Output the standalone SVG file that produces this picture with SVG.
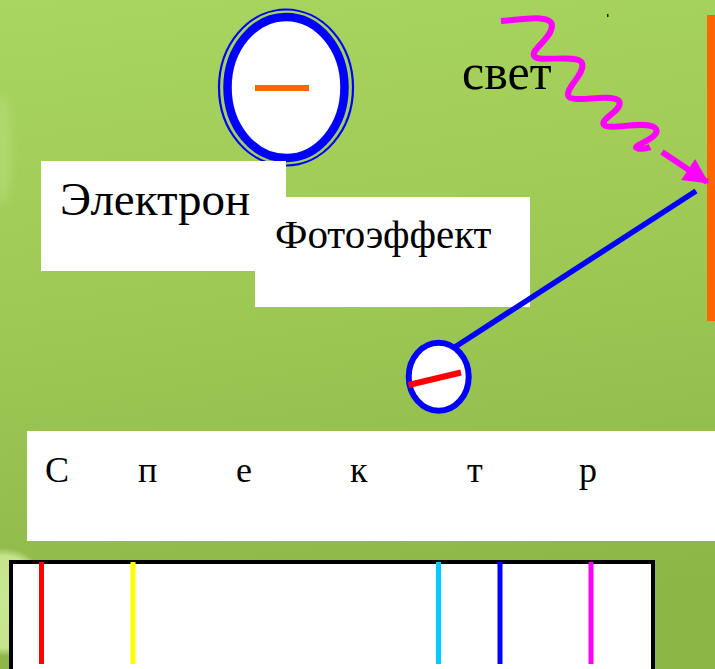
<svg xmlns="http://www.w3.org/2000/svg" width="715" height="669" viewBox="0 0 715 669">
  <defs>
    <linearGradient id="bg" x1="0" y1="0" x2="0.15" y2="1">
      <stop offset="0" stop-color="#A8D660"/>
      <stop offset="0.5" stop-color="#9DC854"/>
      <stop offset="1" stop-color="#8CB747"/>
    </linearGradient>
    <radialGradient id="glow" cx="0.5" cy="0.5" r="0.5">
      <stop offset="0" stop-color="#C9E692"/>
      <stop offset="0.85" stop-color="#C6E48C"/>
      <stop offset="1" stop-color="#C6E48C" stop-opacity="0"/>
    </radialGradient>
    <filter id="soft" x="-50%" y="-50%" width="200%" height="200%">
      <feGaussianBlur stdDeviation="4"/>
    </filter>
    <marker id="arrow" viewBox="0 0 10 10" refX="9" refY="5" markerWidth="4.2" markerHeight="4.2" markerUnits="strokeWidth" orient="auto">
      <path d="M0,0 L10,5 L0,10 Z" fill="#FF00FF"/>
    </marker>
    <style>
      .box { fill: #FFFFFF; }
      .line { fill: none; stroke-linecap: butt; }
      text { font-family: "Liberation Serif", "Times New Roman", "DejaVu Serif", serif; fill: #000000; }
    </style>
  </defs>

  <!-- background -->
  <rect x="0" y="0" width="715" height="669" fill="url(#bg)"/>
  <ellipse cx="2" cy="150" rx="10" ry="55" fill="#B8DE7A" opacity="0.6" filter="url(#soft)"/>
  <ellipse cx="4" cy="602" rx="48" ry="54" fill="url(#glow)"/>
  <rect x="607" y="14" width="1.5" height="3" fill="#222"/>

  <!-- electron: double ring with minus sign -->
  <g id="electron">
    <ellipse cx="286" cy="87.5" rx="67" ry="78" fill="none" stroke="#0000FF" stroke-width="2.2"/>
    <ellipse cx="286" cy="87.5" rx="58.5" ry="70.5" fill="#FFFFFF" stroke="#0000FF" stroke-width="8.5"/>
    <line x1="255" y1="88" x2="309" y2="88" stroke="#FF6600" stroke-width="6"/>
  </g>

  <!-- label boxes -->
  <g id="electron-label">
    <rect class="box" x="41" y="161" width="245" height="110"/>
    <text x="60" y="215" font-size="47">Электрон</text>
  </g>
  <g id="photoeffect-label">
    <rect class="box" x="255" y="197" width="275" height="110"/>
    <text x="275" y="248" font-size="41">Фотоэффект</text>
  </g>

  <!-- metal plate -->
  <g id="plate">
    <rect x="707" y="15" width="10" height="306" fill="#FF6600"/>
  </g>

  <!-- light label -->
  <g id="light-label">
    <text x="462" y="89" font-size="50">свет</text>
  </g>

  <!-- emitted electron -->
  <g id="photoelectron">
    <ellipse cx="438.7" cy="376.7" rx="30" ry="34" fill="#FFFFFF" stroke="#0000FF" stroke-width="6"/>
    <line x1="408.5" y1="385" x2="461" y2="372.5" stroke="#FF0000" stroke-width="6"/>
  </g>

  <!-- connectors: incoming photon and electron track -->
  <g id="connectors">
    <path class="line" stroke="#FF00FF" stroke-width="6" stroke-linejoin="round"
          d="M501,21 C525,19 552,14 552,26 C551,40 528,51 535,57 C541,62 578,54 582,63 C586,74 563,89 569,97 C575,103 612,93 619,101 C624,110 599,119 604,125 C610,131 650,119 656,129 C661,138 630,146 637,148 C641,150 648,148 650,147"/>
    <path class="line" stroke="#FF00FF" stroke-width="6" marker-end="url(#arrow)" d="M662,152 L707,182"/>
    <line class="line" x1="696" y1="191" x2="455" y2="347" stroke="#0000FF" stroke-width="5.5"/>
  </g>

  <!-- spectrum title -->
  <g id="spectrum-title">
    <rect class="box" x="27" y="431" width="690" height="110"/>
    <g font-size="36">
      <text x="45" y="482">С</text>
      <text x="138" y="482">п</text>
      <text x="236" y="482">е</text>
      <text x="350" y="482">к</text>
      <text x="467" y="482">т</text>
      <text x="579" y="482">р</text>
    </g>
  </g>

  <!-- spectrum lines -->
  <g id="spectrum">
    <rect x="11" y="562" width="642" height="120" fill="#FFFFFF" stroke="#000000" stroke-width="4"/>
    <line x1="41.5" y1="562" x2="41.5" y2="664" stroke="#FF0000" stroke-width="5"/>
    <line x1="133" y1="562" x2="133" y2="664" stroke="#FFFF00" stroke-width="5"/>
    <line x1="438.5" y1="562" x2="438.5" y2="664" stroke="#00CCFF" stroke-width="5"/>
    <line x1="500" y1="562" x2="500" y2="664" stroke="#0000FF" stroke-width="5"/>
    <line x1="591" y1="562" x2="591" y2="664" stroke="#FF00FF" stroke-width="5"/>
  </g>
</svg>
